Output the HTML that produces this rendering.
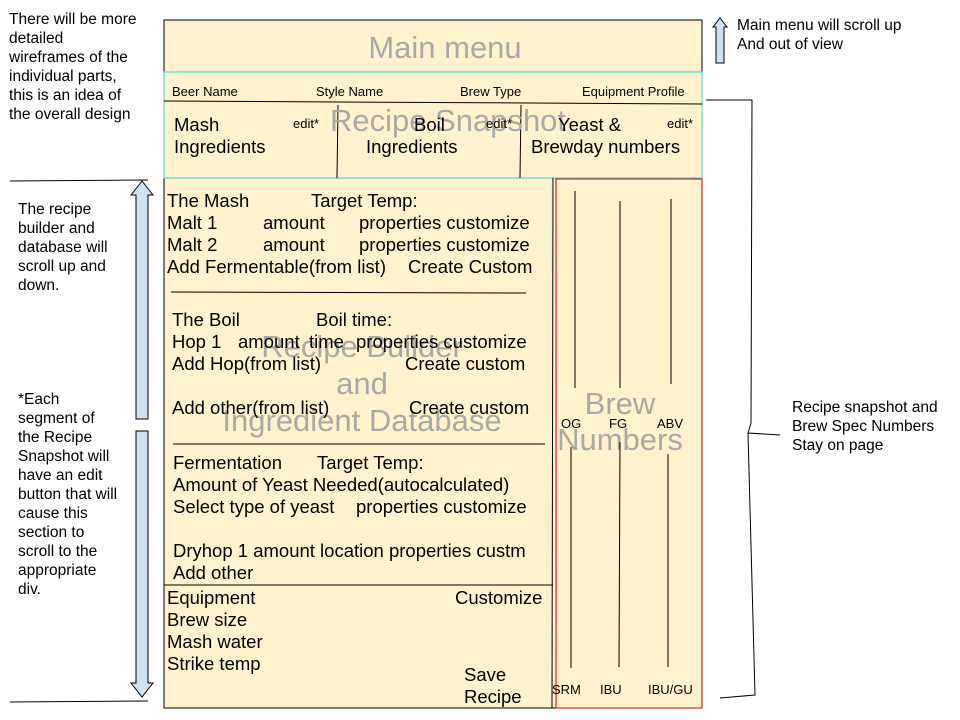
<!DOCTYPE html>
<html><head><meta charset="utf-8"><style>
html,body{margin:0;padding:0;background:#fff;}
svg{display:block;font-family:"Liberation Sans",Arial,sans-serif;}
.t{font-size:18.5px;fill:#000}
.s{font-size:13px;fill:#000}
.a{font-size:15.5px;fill:#000}
.w{font-size:31px;fill:#a9a9a9}
</style></head><body>
<svg width="960" height="720" viewBox="0 0 960 720" xmlns="http://www.w3.org/2000/svg">
<rect x="164" y="20" width="538" height="688" fill="#fff2cc" stroke="#000" stroke-width="1"/>
<text class="w" x="445" y="58" text-anchor="middle">Main menu</text>
<rect x="164" y="72" width="538" height="106" fill="#fff2cc" stroke="#4dd9d9" stroke-width="1.2"/>
<line x1="164" y1="101" x2="702" y2="104" stroke="#000"/>
<line x1="338" y1="105" x2="337" y2="178" stroke="#000"/>
<line x1="521" y1="105" x2="520" y2="178" stroke="#000"/>
<text class="w" x="448" y="131" text-anchor="middle">Recipe Snapshot</text>
<text class="s" x="172" y="96">Beer Name</text>
<text class="s" x="316" y="96">Style Name</text>
<text class="s" x="460" y="96">Brew Type</text>
<text class="s" x="582" y="96">Equipment Profile</text>
<text class="t" x="174" y="131">Mash</text>
<text class="t" x="174" y="153">Ingredients</text>
<text class="s" x="293" y="128">edit*</text>
<text class="t" x="414" y="131">Boil</text>
<text class="t" x="366" y="153">Ingredients</text>
<text class="s" x="486" y="128">edit*</text>
<text class="t" x="558" y="131">Yeast &amp;</text>
<text class="t" x="531" y="153">Brewday numbers</text>
<text class="s" x="667" y="128">edit*</text>
<line x1="553" y1="178" x2="552" y2="708" stroke="#000"/>
<line x1="164" y1="585" x2="553" y2="585" stroke="#000"/>
<rect x="556" y="179" width="146" height="529" fill="#fff2cc" stroke="#cc0000" stroke-width="1"/>
<text class="w" x="620" y="414" text-anchor="middle">Brew</text>
<text class="w" x="620" y="450" text-anchor="middle">Numbers</text>
<line x1="575" y1="191" x2="575" y2="388" stroke="#000"/>
<line x1="620" y1="201" x2="620" y2="388" stroke="#000"/>
<line x1="671" y1="199" x2="671" y2="384" stroke="#000"/>
<line x1="571" y1="447" x2="571" y2="668" stroke="#000"/>
<line x1="620" y1="442" x2="619" y2="667" stroke="#000"/>
<line x1="668" y1="454" x2="668" y2="667" stroke="#000"/>
<text class="s" x="561" y="428">OG</text>
<text class="s" x="609" y="428">FG</text>
<text class="s" x="657" y="428">ABV</text>
<text class="s" x="552" y="694">SRM</text>
<text class="s" x="600" y="694">IBU</text>
<text class="s" x="648" y="694">IBU/GU</text>
<text class="w" x="362" y="357" text-anchor="middle">Recipe Builder</text>
<text class="w" x="362" y="394" text-anchor="middle">and</text>
<text class="w" x="362" y="431" text-anchor="middle">Ingredient Database</text>
<text class="t" x="167" y="207">The Mash</text>
<text class="t" x="311" y="207">Target Temp:</text>
<text class="t" x="167" y="229">Malt 1</text><text class="t" x="263" y="229">amount</text><text class="t" x="359" y="229">properties customize</text>
<text class="t" x="167" y="251">Malt 2</text><text class="t" x="263" y="251">amount</text><text class="t" x="359" y="251">properties customize</text>
<text class="t" x="167" y="273">Add Fermentable(from list)</text><text class="t" x="408" y="273">Create Custom</text>
<line x1="171" y1="292" x2="526" y2="293" stroke="#000"/>
<text class="t" x="172" y="326">The Boil</text><text class="t" x="316" y="326">Boil time:</text>
<text class="t" x="172" y="348">Hop 1</text><text class="t" x="238" y="348">amount</text><text class="t" x="309" y="348">time</text><text class="t" x="356" y="348">properties customize</text>
<text class="t" x="172" y="370">Add Hop(from list)</text><text class="t" x="405" y="370">Create custom</text>
<text class="t" x="172" y="414">Add other(from list)</text><text class="t" x="409" y="414">Create custom</text>
<line x1="173" y1="444" x2="545" y2="444" stroke="#000"/>
<text class="t" x="173" y="469">Fermentation</text><text class="t" x="317" y="469">Target Temp:</text>
<text class="t" x="173" y="491">Amount of Yeast Needed(autocalculated)</text>
<text class="t" x="173" y="513">Select type of yeast</text><text class="t" x="356" y="513">properties customize</text>
<text class="t" x="173" y="557">Dryhop 1 amount location properties custm</text>
<text class="t" x="173" y="579">Add other</text>
<text class="t" x="167" y="604">Equipment</text><text class="t" x="455" y="604">Customize</text>
<text class="t" x="167" y="626">Brew size</text>
<text class="t" x="167" y="648">Mash water</text>
<text class="t" x="167" y="670">Strike temp</text>
<text class="t" x="464" y="681">Save</text>
<text class="t" x="464" y="703">Recipe</text>
<text class="a" x="9" y="24">There will be more</text>
<text class="a" x="9" y="43">detailed</text>
<text class="a" x="9" y="62">wireframes of the</text>
<text class="a" x="9" y="81">individual parts,</text>
<text class="a" x="9" y="100">this is an idea of</text>
<text class="a" x="9" y="119">the overall design</text>
<line x1="10" y1="181" x2="148" y2="180" stroke="#000"/>
<line x1="10" y1="702" x2="148" y2="701" stroke="#000"/>
<text class="a" x="18" y="214">The recipe</text>
<text class="a" x="18" y="233">builder and</text>
<text class="a" x="18" y="252">database will</text>
<text class="a" x="18" y="271">scroll up and</text>
<text class="a" x="18" y="290">down.</text>
<text class="a" x="18" y="404">*Each</text>
<text class="a" x="18" y="423">segment of</text>
<text class="a" x="18" y="442">the Recipe</text>
<text class="a" x="18" y="461">Snapshot will</text>
<text class="a" x="18" y="480">have an edit</text>
<text class="a" x="18" y="499">button that will</text>
<text class="a" x="18" y="518">cause this</text>
<text class="a" x="18" y="537">section to</text>
<text class="a" x="18" y="556">scroll to the</text>
<text class="a" x="18" y="575">appropriate</text>
<text class="a" x="18" y="594">div.</text>
<polygon points="142,181 153,195 148,195 148,419 136,419 136,195 131,195" fill="#cfe2f3" stroke="#000" stroke-width="1"/>
<polygon points="136,431 148,431 148,683 153,683 142,697 131,683 136,683" fill="#cfe2f3" stroke="#000" stroke-width="1"/>
<polygon points="720,18 727,27 724,27 724,63 716,63 716,27 713,27" fill="#cfe2f3" stroke="#000" stroke-width="1"/>
<text class="a" x="737" y="30">Main menu will scroll up</text>
<text class="a" x="737" y="49">And out of view</text>
<polyline points="706,100 752,100 751,423 748,433 780,435" fill="none" stroke="#000"/>
<polyline points="748,433 755,695 720,698" fill="none" stroke="#000"/>
<text class="a" x="792" y="412">Recipe snapshot and</text>
<text class="a" x="792" y="431">Brew Spec Numbers</text>
<text class="a" x="792" y="450">Stay on page</text>
</svg>
</body></html>
